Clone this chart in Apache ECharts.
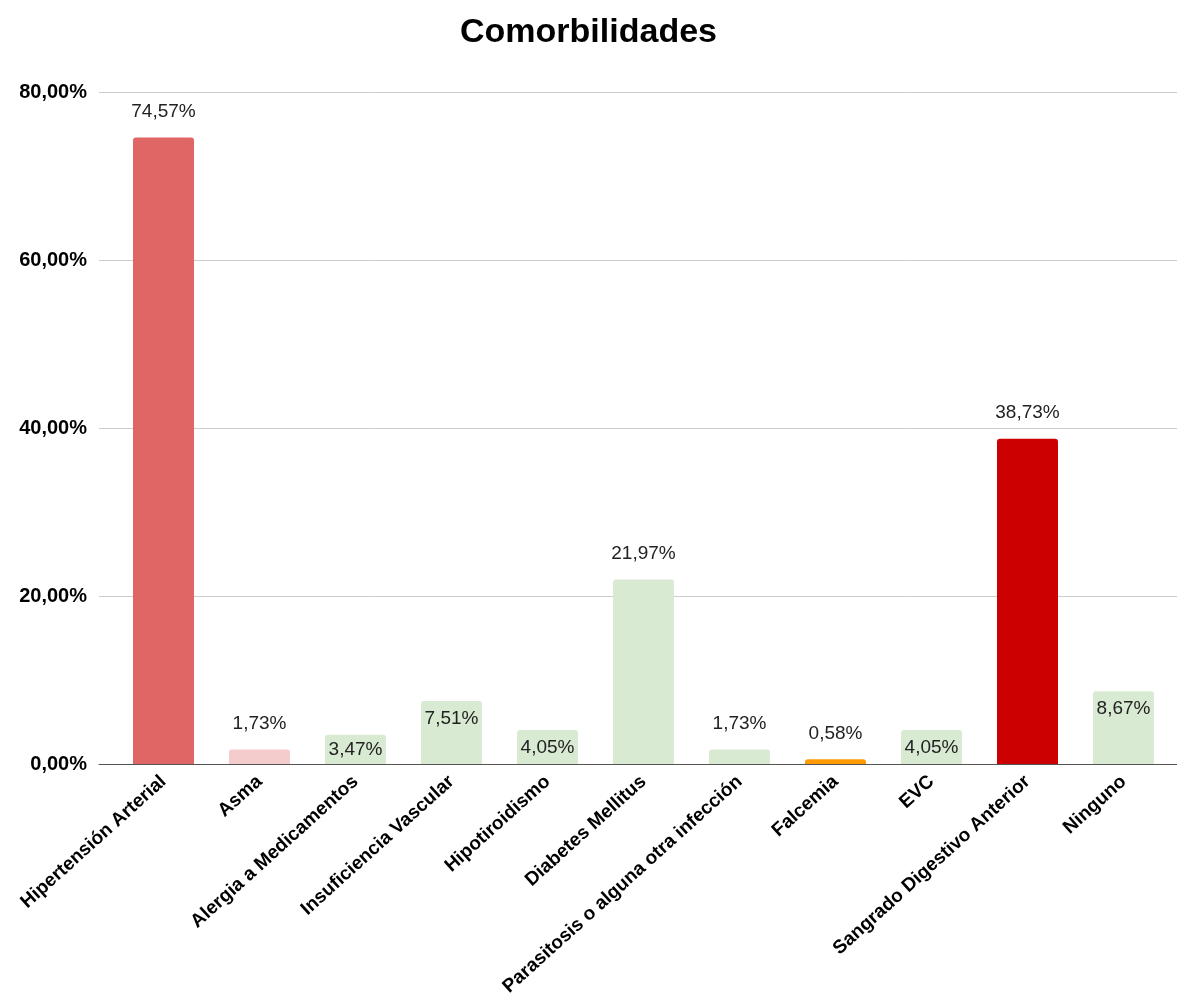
<!DOCTYPE html>
<html>
<head>
<meta charset="utf-8">
<script src="https://cdn.jsdelivr.net/npm/echarts@6/dist/echarts.min.js"></script>
<style>
  html, body { margin: 0; padding: 0; background: #fff; }
  #chart { width: 1177px; height: 1008px; }
</style>
</head>
<body>
<div id="chart"></div>
<script>
// Comorbidity categories and their share of patients (%)
const categories = [
  'Hipertensión Arterial', 'Asma', 'Alergia a Medicamentos', 'Insuficiencia Vascular',
  'Hipotiroidismo', 'Diabetes Mellitus', 'Parasitosis o alguna otra infección',
  'Falcemia', 'EVC', 'Sangrado Digestivo Anterior', 'Ninguno'
];
const values = [74.57, 1.73, 3.47, 7.51, 4.05, 21.97, 1.73, 0.58, 4.05, 38.73, 8.67];
const barColors = ['#e06666', '#f4cccc', '#d9ead3', '#d9ead3', '#d9ead3', '#d9ead3',
                   '#d9ead3', '#ff9900', '#d9ead3', '#cc0000', '#d9ead3'];
// where each value label sits relative to its bar
const labelPlacement = ['top', 'top', 'insideTop', 'insideTop', 'insideTop', 'top',
                        'top', 'top', 'insideTop', 'top', 'insideTop'];
const yTicks = [0, 20, 40, 60, 80];

const FONT = 'Arial, "Liberation Sans", Helvetica, sans-serif';
const fmtPct = v => v.toFixed(2).replace('.', ',') + '%';

const chart = echarts.init(document.getElementById('chart'), null, { renderer: 'canvas' });

const yMin = yTicks[0], yMax = yTicks[yTicks.length - 1];
const yStep = yTicks[1] - yTicks[0];

chart.setOption({
  backgroundColor: '#ffffff',
  animation: false,
  title: {
    text: 'Comorbilidades',
    left: 'center',
    top: 11,
    textStyle: { fontFamily: FONT, fontSize: 34, fontWeight: 'bold', color: '#000' }
  },
  grid: [
    // frame: value axis, gridlines and baseline
    { left: 99, right: 0, top: 92, bottom: 244, containLabel: false },
    // bars
    { left: 115.5, width: 1056, top: 92, bottom: 244, containLabel: false }
  ],
  xAxis: [
    {
      type: 'category', gridIndex: 0, data: [''],
      axisLine: { show: true, lineStyle: { color: '#555', width: 1.2 } },
      axisTick: { show: false }, axisLabel: { show: false }
    },
    {
      type: 'category', gridIndex: 1, data: categories,
      axisLine: { show: false }, axisTick: { show: false },
      axisLabel: {
        interval: 0, rotate: 42, margin: 15,
        fontFamily: FONT, fontSize: 19, fontWeight: 'bold', color: '#000'
      }
    }
  ],
  yAxis: [
    {
      type: 'value', gridIndex: 0, min: yMin, max: yMax, interval: yStep,
      axisLine: { show: false }, axisTick: { show: false },
      splitLine: { lineStyle: { color: '#cccccc', width: 1 } },
      axisLabel: {
        margin: 12, fontFamily: FONT, fontSize: 20, fontWeight: 'bold', color: '#000',
        formatter: v => fmtPct(v)
      }
    },
    {
      type: 'value', gridIndex: 1, min: yMin, max: yMax, interval: yStep,
      show: false, splitLine: { show: false }
    }
  ],
  series: [{
    type: 'bar',
    xAxisIndex: 1, yAxisIndex: 1,
    barWidth: 61,
    data: values.map((v, i) => ({
      value: v,
      itemStyle: { color: barColors[i], borderRadius: [3, 3, 0, 0] },
      label: {
        position: labelPlacement[i],
        distance: labelPlacement[i] === 'top' ? 16 : (v < 4 ? 5 : 8)
      }
    })),
    label: {
      show: true,
      fontFamily: FONT, fontSize: 19, color: '#222',
      formatter: p => fmtPct(p.value)
    }
  }]
});
</script>
</body>
</html>
